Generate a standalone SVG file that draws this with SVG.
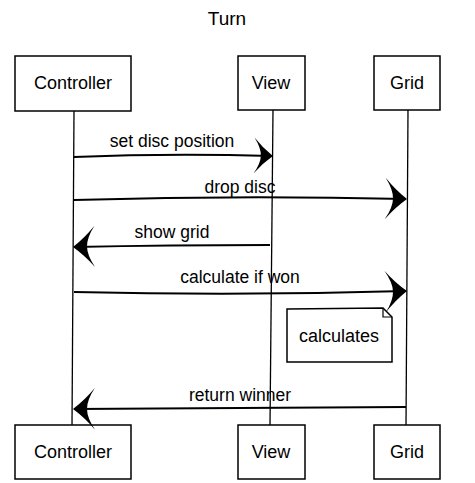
<svg xmlns="http://www.w3.org/2000/svg" width="475" height="483" viewBox="0 0 475 483">
<style>
text{font-family:"Liberation Sans",Arial,sans-serif;fill:#000;text-anchor:middle}
.box{fill:#fff;stroke:#000;stroke-width:1.5}
.life{stroke:#000;stroke-width:1.3;fill:none}
.msg{stroke:#000;stroke-width:2;fill:none}
.lbl{font-size:17.5px}
.nm{font-size:18px}
</style>
<defs>
<marker id="ah" viewBox="0 0 22 42" refX="21" refY="21" markerWidth="22" markerHeight="42" markerUnits="userSpaceOnUse" orient="auto">
<path d="M0,0 Q10,12 22,21 Q10,30 0,42 Q8,30 8,21 Q8,12 0,0 Z" fill="#000"/>
</marker>
<marker id="ahs" viewBox="0 0 22 42" refX="21" refY="21" markerWidth="21" markerHeight="36" markerUnits="userSpaceOnUse" orient="auto">
<path d="M0,0 Q10,12 22,21 Q10,30 0,42 Q8,30 8,21 Q8,12 0,0 Z" fill="#000"/>
</marker>
</defs>
<rect width="475" height="483" fill="#fff"/>
<text x="227" y="25" font-size="19">Turn</text>
<g id="lifelines">
<line class="life" x1="74" y1="111" x2="72" y2="425"/>
<line class="life" x1="273" y1="110" x2="270" y2="425"/>
<line class="life" x1="408" y1="110" x2="406" y2="425"/>
</g>
<g id="controller-top"><rect class="box" x="15" y="56" width="116" height="55"/><text class="nm" x="73" y="89">Controller</text></g>
<g id="view-top"><rect class="box" x="238" y="56" width="67" height="54"/><text class="nm" x="271" y="89">View</text></g>
<g id="grid-top"><rect class="box" x="374" y="56" width="66" height="54"/><text class="nm" x="407" y="89">Grid</text></g>
<g id="controller-bottom"><rect class="box" x="15" y="425" width="116" height="54"/><text class="nm" x="73" y="458">Controller</text></g>
<g id="view-bottom"><rect class="box" x="238" y="425" width="67" height="54"/><text class="nm" x="271" y="458">View</text></g>
<g id="grid-bottom"><rect class="box" x="374" y="425" width="66" height="54"/><text class="nm" x="407" y="458">Grid</text></g>
<g id="note">
<path class="box" d="M287,309 L383,308 L392,317 L392,362 L287,362 Z"/>
<path d="M383,308 L383,317 L392,317" fill="none" stroke="#000" stroke-width="1.2"/>
<text class="nm" x="339" y="342">calculates</text>
</g>
<g id="connectors">
<path class="msg" d="M74,157 Q170,153 272,156" marker-end="url(#ahs)"/>
<text class="lbl" x="172" y="147">set disc position</text>
<path class="msg" d="M74,200 Q240,195 406,199" marker-end="url(#ah)"/>
<text class="lbl" x="240" y="193">drop disc</text>
<path class="msg" d="M270,245 Q170,245 74,247" marker-end="url(#ah)"/>
<text class="lbl" x="172" y="238">show grid</text>
<path class="msg" d="M74,292 Q240,296 406,291" marker-end="url(#ah)"/>
<text class="lbl" x="240" y="283">calculate if won</text>
<path class="msg" d="M406,407 Q240,408 74,409" marker-end="url(#ah)"/>
<text class="lbl" x="240" y="401">return winner</text>
</g>
</svg>
